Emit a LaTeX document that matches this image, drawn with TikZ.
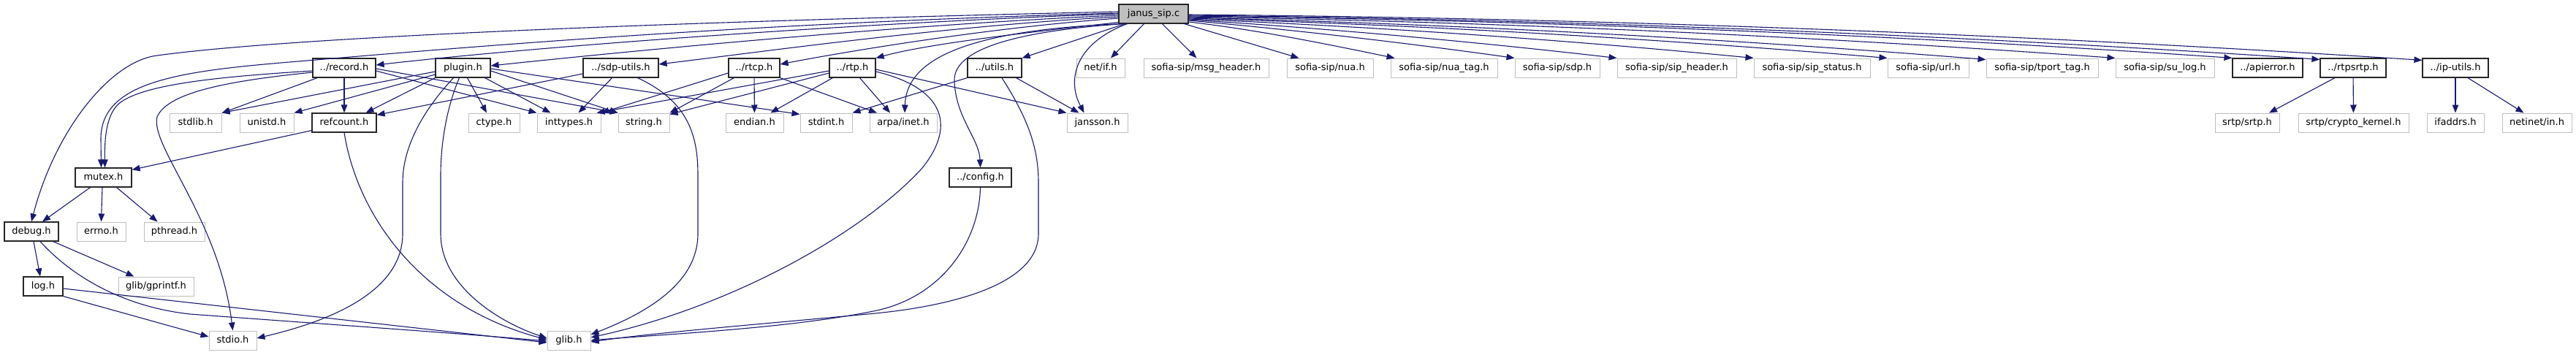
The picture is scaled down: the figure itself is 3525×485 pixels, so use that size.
\documentclass[tikz,border=0pt]{standalone}
\usepackage{fontspec}
\setmainfont{DejaVu Sans}
\usetikzlibrary{arrows.meta}
\definecolor{edgeblue}{RGB}{25,25,112}
\definecolor{sysgray}{RGB}{191,191,191}
\definecolor{rootgray}{RGB}{191,191,191}
\begin{document}
\begin{tikzpicture}[x=1pt,y=-1pt,
  hdr/.style={draw=black!85, line width=1.2pt, fill=white, inner sep=0pt, minimum height=26pt, text height=10pt, text depth=3pt, font=\fontsize{13}{15}\selectfont},
  sys/.style={hdr, draw=sysgray, line width=1pt},
  root/.style={hdr, fill=rootgray},
  edge/.style={draw=edgeblue, line width=1.1pt, -{Triangle[length=11pt,width=8.5pt]}}]
\fill[white] (0,0) rectangle (3525,485);
\useasboundingbox (0,0) rectangle (3525,485);

% row 0
\node[root, minimum width=95pt] (janus) at (1578.5,19) {janus\_sip.c};
% row 1
\node[hdr, minimum width=86pt] (record) at (471,93) {../record.h};
\node[hdr, minimum width=75pt] (plugin) at (633.5,93) {plugin.h};
\node[hdr, minimum width=103pt] (sdputils) at (849.5,93) {../sdp-utils.h};
\node[hdr, minimum width=70pt] (rtcp) at (1032,93) {../rtcp.h};
\node[hdr, minimum width=63pt] (rtp) at (1166.5,93) {../rtp.h};
\node[hdr, minimum width=74pt] (utils) at (1361,93) {../utils.h};
\node[sys, minimum width=66pt] (netif) at (1506,93) {net/if.h};
\node[sys, minimum width=171pt] (msghdr) at (1650.5,93) {sofia-sip/msg\_header.h};
\node[sys, minimum width=118pt] (nua) at (1820,93) {sofia-sip/nua.h};
\node[sys, minimum width=146pt] (nuatag) at (1976,93) {sofia-sip/nua\_tag.h};
\node[sys, minimum width=116pt] (sdp) at (2131,93) {sofia-sip/sdp.h};
\node[sys, minimum width=163pt] (siphdr) at (2294.5,93) {sofia-sip/sip\_header.h};
\node[sys, minimum width=159pt] (sipstatus) at (2479.5,93) {sofia-sip/sip\_status.h};
\node[sys, minimum width=111pt] (url) at (2638.5,93) {sofia-sip/url.h};
\node[sys, minimum width=153pt] (tporttag) at (2794.5,93) {sofia-sip/tport\_tag.h};
\node[sys, minimum width=135pt] (sulog) at (2962.5,93) {sofia-sip/su\_log.h};
\node[hdr, minimum width=96pt] (apierror) at (3103,93) {../apierror.h};
\node[hdr, minimum width=90pt] (rtpsrtp) at (3220,93) {../rtpsrtp.h};
\node[hdr, minimum width=90pt] (iputils) at (3360,93) {../ip-utils.h};
% row 2
\node[sys, minimum width=71pt] (stdlib) at (267.5,168) {stdlib.h};
\node[sys, minimum width=74pt] (unistd) at (365,168) {unistd.h};
\node[hdr, minimum width=88pt] (refcount) at (471,168) {refcount.h};
\node[sys, minimum width=70pt] (ctype) at (676,168) {ctype.h};
\node[sys, minimum width=87pt] (inttypes) at (778.5,168) {inttypes.h};
\node[sys, minimum width=70pt] (string) at (881,168) {string.h};
\node[sys, minimum width=79pt] (endian) at (1032.5,168) {endian.h};
\node[sys, minimum width=71pt] (stdint) at (1130.5,168) {stdint.h};
\node[sys, minimum width=92pt] (arpainet) at (1236,168) {arpa/inet.h};
\node[sys, minimum width=83pt] (jansson) at (1501.5,168) {jansson.h};
\node[sys, minimum width=88pt] (srtp) at (3075,168) {srtp/srtp.h};
\node[sys, minimum width=151pt] (crypto) at (3220.5,168) {srtp/crypto\_kernel.h};
\node[sys, minimum width=78pt] (ifaddrs) at (3360,168) {ifaddrs.h};
\node[sys, minimum width=95pt] (netinetin) at (3471.5,168) {netinet/in.h};
% row 3
\node[hdr, minimum width=77pt] (mutex) at (141.5,243) {mutex.h};
\node[hdr, minimum width=85pt] (config) at (1341.5,243) {../config.h};
% row 4
\node[hdr, minimum width=74pt] (debug) at (43,317) {debug.h};
\node[sys, minimum width=67pt] (errno) at (138.5,317) {errno.h};
\node[sys, minimum width=83pt] (pthread) at (238.5,317) {pthread.h};
% row 5
\node[hdr, minimum width=54pt] (log) at (59,392) {log.h};
\node[sys, minimum width=103pt] (gprintf) at (213.5,392) {glib/gprintf.h};
% row 6
\node[sys, minimum width=65pt] (stdio) at (318.5,466) {stdio.h};
\node[sys, minimum width=59pt] (glib) at (778.5,466) {glib.h};

% ---- edges from janus_sip.c (left side)
\draw[edge] ([yshift=3pt]janus.west) .. controls (1000,28) and (420,48) .. (215,76) .. controls (150,84) and (75,180) .. (debug.north);
\draw[edge] ([yshift=1pt]janus.west) .. controls (1000,32) and (600,68) .. (408,84) .. controls (250,97) and (138,110) .. (138,190) -- ([xshift=-3pt]mutex.north);
\draw[edge] (janus.west) .. controls (1200,30) and (750,62) .. ([yshift=4pt]record.east);
\draw[edge] ([yshift=-2pt]janus.west) .. controls (1250,33) and (900,66) .. ([yshift=3pt]plugin.east);
\draw[edge] ([yshift=-4pt]janus.west) .. controls (1300,35) and (1050,70) .. ([yshift=5pt]sdputils.east);
\draw[edge] ([yshift=-6pt]janus.west) .. controls (1350,38) and (1150,72) .. ([yshift=5pt]rtcp.east);
\draw[edge] ([yshift=2pt]janus.south west) .. controls (1400,45) and (1270,60) .. (rtp.north east);
\draw[edge] ([xshift=5pt]janus.south west) .. controls (1300,42) and (1240,90) .. ([xshift=2pt]arpainet.north);
\draw[edge] ([xshift=7pt]janus.south west) .. controls (1400,42) and (1305,65) .. (1306,110) .. controls (1307,160) and (1340,190) .. (config.north);
\draw[edge] ([xshift=9pt]janus.south west) -- (utils.north east);
\draw[edge] ([xshift=12pt]janus.south west) .. controls (1470,60) and (1460,110) .. ([xshift=-18pt]jansson.north);
\draw[edge] ([xshift=35pt]janus.south west) -- ([xshift=14pt]netif.north);
\draw[edge] ([xshift=60pt]janus.south west) -- ([xshift=-13pt]msghdr.north);
% ---- edges from janus_sip.c (right side)
\draw[edge] ([xshift=-6pt]janus.south east) -- ([xshift=17pt]nua.north west);
\draw[edge] ([yshift=-11pt]janus.east) .. controls (1720,40.7) and (1815,60.3) .. ([xshift=6pt]nuatag.north west);
\draw[edge] ([yshift=-9pt]janus.east) .. controls (1775,41.3) and (1924,58.7) .. (sdp.north west);
\draw[edge] ([yshift=-8pt]janus.east) .. controls (1821,39.2) and (2015,56.9) .. (siphdr.north west);
\draw[edge] ([yshift=-7pt]janus.east) .. controls (1884,36.6) and (2142,54.6) .. (sipstatus.north west);
\draw[edge] ([yshift=-6pt]janus.east) .. controls (1945,34.3) and (2264,52.7) .. (url.north west);
\draw[edge] ([yshift=-5pt]janus.east) .. controls (1989,33) and (2353,52.3) .. ([yshift=-2pt]tporttag.north west);
\draw[edge] ([yshift=-4pt]janus.east) .. controls (2049,30) and (2472,49) .. (sulog.north west);
\draw[edge] ([yshift=-3pt]janus.east) .. controls (2102,27.7) and (2579,47) .. (apierror.north west);
\draw[edge] ([yshift=-2pt]janus.east) .. controls (2142,26.6) and (2658,47) .. ([yshift=-2pt]rtpsrtp.north west);
\draw[edge] ([yshift=-1pt]janus.east) .. controls (2188,25) and (2751,46) .. ([yshift=-3pt]iputils.north west);

% ---- ../record.h
\draw[edge] (record) -- (stdlib);
\draw[edge] (record) -- (refcount);
\draw[edge] ([yshift=-4pt]record.east) -- (inttypes.north west);
\draw[edge] ([yshift=-1pt]record.east) -- (string.north west);
\draw[edge] ([yshift=-4pt]record.west) .. controls (300,105) and (200,115) .. (165,140) .. controls (145,155) and (143,190) .. ([xshift=2pt]mutex.north);
\draw[edge] ([yshift=-6pt]record.west) .. controls (320,110) and (230,125) .. (215,160) .. controls (205,200) and (300,300) .. (stdio.north);

% ---- plugin.h
\draw[edge] ([yshift=-5pt]plugin.west) -- (stdlib.north east);
\draw[edge] ([yshift=-9pt]plugin.west) -- (unistd.north east);
\draw[edge] (plugin.south west) -- ([xshift=-15pt]refcount.north east);
\draw[edge] ([xshift=-13pt]plugin.south) .. controls (580,150) and (551,200) .. (551,250) -- (551,320) .. controls (551,400) and (450,440) .. ([yshift=3pt]stdio.east);
\draw[edge] ([xshift=-5pt]plugin.south) .. controls (610,150) and (603,200) .. (603,240) -- (603,320) .. controls (603,390) and (680,440) .. ([yshift=3pt]glib.west);
\draw[edge] ([xshift=6pt]plugin.south) -- ([xshift=-10pt]ctype.north);
\draw[edge] ([xshift=-8pt]plugin.south east) -- ([xshift=-25pt]inttypes.north);
\draw[edge] ([yshift=-4pt]plugin.east) -- (string.north west);
\draw[edge] ([yshift=-1pt]plugin.east) -- ([yshift=-2pt]stdint.north west);

% ---- ../sdp-utils.h
\draw[edge] ([yshift=-8pt]sdputils.west) -- ([yshift=-3pt]refcount.north east);
\draw[edge] ([xshift=-12pt]sdputils.south) -- ([xshift=13pt]inttypes.north);
\draw[edge] ([xshift=23pt]sdputils.south) .. controls (945,140) and (955,190) .. (955,240) -- (955,320) .. controls (955,390) and (880,430) .. ([yshift=8pt]glib.east);

% ---- ../rtcp.h
\draw[edge] ([yshift=-7pt]rtcp.west) -- (inttypes.north east);
\draw[edge] ([xshift=8pt]rtcp.south west) -- (string.north east);
\draw[edge] (rtcp) -- (endian);
\draw[edge] (rtcp.south east) -- ([xshift=-36pt]arpainet.north);

% ---- ../rtp.h
\draw[edge] ([yshift=-4pt]rtp.west) -- ([xshift=-6pt]inttypes.north east);
\draw[edge] ([yshift=-7pt]rtp.west) -- ([yshift=-2pt]string.north east);
\draw[edge] ([xshift=5pt]rtp.south west) -- ([xshift=22pt]endian.north);
\draw[edge] ([xshift=10pt]rtp.south) -- ([xshift=-18pt]arpainet.north);
\draw[edge] ([yshift=-2pt]rtp.east) -- (jansson.north west);
\draw[edge] ([yshift=-5pt]rtp.east) .. controls (1290,120) and (1310,170) .. (1262,230) .. controls (1180,320) and (1000,420) .. ([yshift=4pt]glib.east);

% ---- ../utils.h
\draw[edge] (utils.south west) -- (stdint.north east);
\draw[edge] ([xshift=-8pt]utils.south east) -- ([xshift=-25pt]jansson.north);
\draw[edge] ([xshift=10pt]utils.south) .. controls (1405,160) and (1421,200) .. (1421,250) -- (1421,320) .. controls (1421,390) and (1300,420) .. (1187,430) .. controls (1050,443) and (900,455) .. ([yshift=-2pt]glib.east);

% ---- ../config.h
\draw[edge] (config.south) .. controls (1340,330) and (1290,405) .. (1200,425) .. controls (1080,450) and (900,458) .. (glib.east);

% ---- refcount.h
\draw[edge] ([yshift=3pt]refcount.south west) -- ([yshift=-3pt]mutex.north east);
\draw[edge] (refcount.south) .. controls (490,300) and (580,420) .. ([yshift=1pt]glib.west);

% ---- mutex.h
\draw[edge] ([xshift=-18pt]mutex.south) -- ([xshift=15pt]debug.north);
\draw[edge] ([xshift=-1.5pt]mutex.south) -- (errno.north);
\draw[edge] ([xshift=18pt]mutex.south) -- ([xshift=-23pt]pthread.north);

% ---- debug.h
\draw[edge] ([xshift=3pt]debug.south) -- ([xshift=-4pt]log.north);
\draw[edge] ([xshift=-8pt]debug.south east) -- ([xshift=-30pt]gprintf.north);
\draw[edge] ([xshift=12pt]debug.south) .. controls (100,380) and (170,420) .. (260,430) .. controls (450,444) and (650,458) .. ([yshift=-1pt]glib.west);

% ---- log.h
\draw[edge] ([yshift=-3pt]log.east) -- ([yshift=-3pt]glib.west);
\draw[edge] (log.south east) -- ([yshift=5pt]stdio.west);

% ---- ../rtpsrtp.h
\draw[edge] ([xshift=-25pt]rtpsrtp.south) -- ([xshift=30pt]srtp.north);
\draw[edge] (rtpsrtp) -- (crypto);

% ---- ../ip-utils.h
\draw[edge] (iputils) -- (ifaddrs);
\draw[edge] ([xshift=17pt]iputils.south) -- ([xshift=-18pt]netinetin.north);
\end{tikzpicture}
\end{document}
